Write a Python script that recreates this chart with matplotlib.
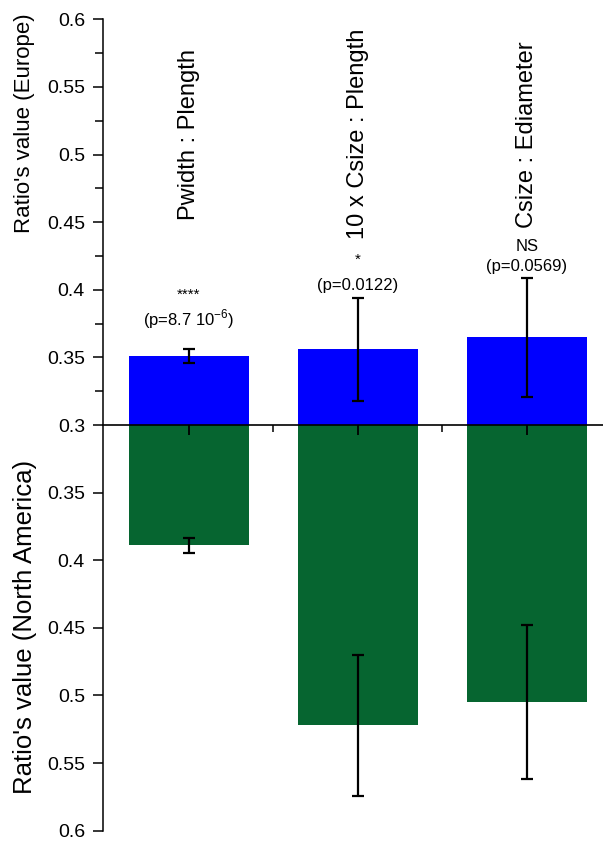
import numpy as np
import matplotlib.pyplot as plt
from matplotlib.ticker import FixedLocator

plt.rcParams['font.family'] = ['Liberation Sans', 'DejaVu Sans']
plt.rcParams['mathtext.fontset'] = 'custom'
plt.rcParams['mathtext.rm'] = 'Liberation Sans'

# ratio names and mean values (error = half bar of the whisker)
ratios = ['Pwidth : Plength', '10 x Csize : Plength', 'Csize : Ediameter']
europe = [0.351, 0.356, 0.365]
europe_err = [0.005, 0.038, 0.044]
america = [0.389, 0.522, 0.505]
america_err = [0.0055, 0.052, 0.057]
signif = ['****', '*', 'NS']
pvals = ['(p=8.7 10$^{-6}$)', '(p=0.0122)', '(p=0.0569)']

base = 0.3

fig = plt.figure(figsize=(6.03, 8.44), dpi=100)
ax = fig.add_axes([103 / 603, 13.3 / 844, 500 / 603, 811.4 / 844])

x = np.arange(len(ratios))
eu = np.array(europe) - base
na = -(np.array(america) - base)
err_style = dict(ecolor='black', elinewidth=1.6, capsize=4, capthick=1.6)

ax.bar(x, eu, width=0.71, color='#0000ff', yerr=europe_err, error_kw=err_style)
ax.bar(x, na, width=0.71, color='#066530', yerr=america_err, error_kw=err_style)

ax.set_xlim(-0.509, 2.45)
ax.set_ylim(-0.3, 0.3)

# mirrored y axis: 0.3 in the middle, growing up (Europe) and down (N. America)
offsets = np.round(np.arange(-0.3, 0.301, 0.05), 3)
ax.set_yticks(offsets)
ax.set_yticklabels(['%g' % round(base + abs(o), 2) for o in offsets], fontsize=14)
ax.yaxis.set_minor_locator(FixedLocator(np.arange(0.025, 0.3, 0.05)))
ax.tick_params(axis='y', which='major', length=7, width=1.1, pad=6)
ax.tick_params(axis='y', which='minor', length=6, width=1.1)

ax.spines['top'].set_visible(False)
ax.spines['right'].set_visible(False)
ax.spines['bottom'].set_position(('data', 0))
ax.spines['bottom'].set_linewidth(1.2)
ax.spines['left'].set_linewidth(1.1)

ax.set_xticks(x)
ax.xaxis.set_minor_locator(FixedLocator([0.5, 1.5]))
ax.tick_params(axis='x', which='major', direction='out', length=7, width=1.3, labelbottom=False)
ax.tick_params(axis='x', which='minor', direction='out', length=5, width=1.1)

# ratio names, written upward above the bars
for xi, name in zip(x, ratios):
    ax.text(xi, 0.215, name, rotation=90, ha='center', va='center', fontsize=17)

# significance marks
star_y = [0.096, 0.122, 0.1317]
p_y = [0.078, 0.1035, 0.117]
for xi, s, p, sy, py in zip(x, signif, pvals, star_y, p_y):
    ax.text(xi, sy, s, ha='center', va='center', fontsize=11 if s != 'NS' else 12)
    ax.text(xi, py, p, ha='center', va='center', fontsize=12)

fig.text(25 / 603, 1 - 123 / 844, "Ratio's value (Europe)", rotation=90,
         ha='center', va='center', fontsize=16)
fig.text(25 / 603, 1 - 627 / 844, "Ratio's value (North America)", rotation=90,
         ha='center', va='center', fontsize=18.5)

fig.savefig('out.png', dpi=100)
